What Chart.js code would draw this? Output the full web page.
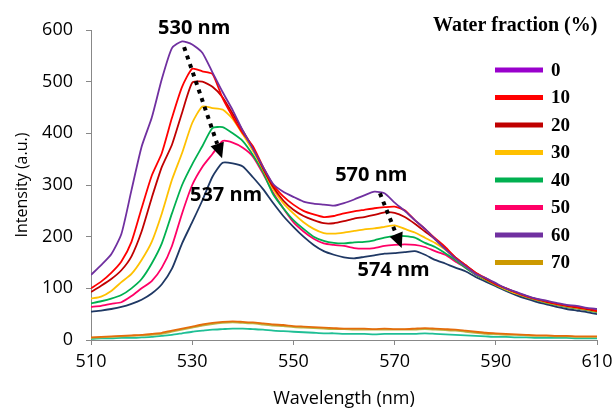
<!DOCTYPE html>
<html lang="en">
<head>
<meta charset="UTF-8">
<title>Emission spectra vs water fraction</title>
<style>
    body { margin: 0; background: #fff; }
    .wrap { width: 614px; height: 412px; position: relative; }
</style>
<script src="https://cdn.jsdelivr.net/npm/chart.js"></script>
</head>
<body>
<div class="wrap"><canvas id="spectra"></canvas></div>
<script>
// wavelength grid (nm)
const wavelength = [510,512,514,516,518,520,522,524,526,528,530,532,534,536,538,540,542,544,546,548,
    550,552,554,556,558,560,562,564,566,568,570,572,574,576,578,580,582,584,586,588,
    590,592,594,596,598,600,602,604,606,608,610];

// intensities, one array per curve
const curvePurple = [126,145,166,205,290,374,430,505,565,578,572,556,518,480,445,405,370,335,302,287,
    277,268,264,262,260,265,272,280,287,284,266,250,232,215,195,176,158,143,128,120,
    110,100,93,86,80,76,72,68,66,62,60];
const curveRed = [100,113,130,152,190,255,318,362,430,490,525,520,515,468,432,400,375,335,300,278,
    262,250,243,238,240,245,249,252,255,257,258,251,232,215,197,180,160,145,130,120,
    108,100,92,85,79,75,70,67,64,61,57];
const curveDarkRed = [93,105,118,135,162,210,275,335,378,440,498,500,490,470,438,405,372,332,296,270,
    252,240,232,226,226,230,235,238,242,247,246,238,225,210,195,178,160,145,130,118,
    108,100,92,85,79,74,70,66,63,60,56];
const curveYellow = [80,84,95,112,128,155,190,245,310,362,420,452,449,446,428,398,366,330,292,265,
    245,228,215,207,206,208,211,214,216,219,222,215,208,198,188,175,158,143,128,117,
    107,98,90,84,78,73,69,65,62,59,55];
const curveGreen = [71,75,80,87,100,118,148,187,245,300,340,375,410,412,400,385,358,325,282,255,
    232,215,200,192,188,187,189,190,193,198,201,201,198,188,180,168,155,140,127,116,
    106,97,90,83,77,72,68,64,61,58,54];
const curvePink = [64,66,70,73,85,100,114,140,182,245,300,335,360,385,382,372,355,322,285,255,
    228,210,196,187,184,182,178,177,178,182,184,185,184,180,172,165,152,140,127,116,
    106,97,90,83,77,72,68,64,61,58,55];
const curveNavy = [55,57,60,64,70,78,90,108,138,187,228,270,316,343,342,336,315,292,265,240,
    219,200,184,172,165,160,158,161,164,167,168,170,172,165,155,148,140,133,122,113,
    104,95,87,80,74,69,64,60,57,54,50];
const curveOrange = [5,6,7,8,9,10,12,14,18,22,26,30,33,35,36,35,34,32,30,29,
    27,26,25,24,23,22,22,22,21,22,21,21,22,23,22,21,20,18,16,14,
    13,12,11,10,9,9,8,8,7,7,7];
const curveOlive = [4,5,6,7,8,9,10,12,16,20,24,28,31,33,34,33,32,30,28,27,
    25,24,23,22,21,21,20,20,20,20,20,20,20,21,20,19,18,16,14,12,
    11,10,10,9,8,8,7,7,6,6,6];
const curveTeal = [2,3,3,4,4,5,6,8,10,13,16,18,20,21,22,22,21,20,18,17,
    16,15,14,13,13,12,12,12,11,12,12,12,12,13,12,11,10,9,8,7,
    6,6,5,5,4,4,4,4,3,3,3];

// legend of the figure
const legendLabels = ['0','10','20','30','40','50','60','70'];
const legendColors = ['#9900CC','#FF0000','#C00000','#FFC000','#00B050','#FF0066','#7030A0','#CC9900'];

// peak shift annotations: [label, x, y] in data units
const peakLabels = [['530 nm',530.4,603],['537 nm',536.7,280],['570 nm',565.4,319],['574 nm',569.8,135]];
const peakArrows = [[528.4,567,535.9,352],[567.1,284,571.4,178]];

const series = [
    ['0', curvePurple, '#7030A0'],
    ['10', curveRed, '#FF0000'],
    ['20', curveDarkRed, '#C00000'],
    ['30', curveYellow, '#FFC000'],
    ['40', curveGreen, '#00B050'],
    ['50', curvePink, '#FF0066'],
    ['60', curveNavy, '#1F3864'],
    ['70', curveOrange, '#E46C0A'],
    ['80', curveOlive, '#B8B84A'],
    ['90', curveTeal, '#1FBF95']
];

const datasets = series.map(([name, vals, color]) => ({
    label: name,
    data: wavelength.map((w, i) => ({ x: w, y: vals[i] })),
    borderColor: color,
    borderWidth: 1.8,
    pointRadius: 0,
    tension: 0.2,
    fill: false
}));

const annotations = {
    id: 'annotations',
    afterDraw(chart) {
        const ctx = chart.ctx;
        const xs = chart.scales.x, ys = chart.scales.y;
        ctx.save();
        // dotted arrows
        peakArrows.forEach(([x1, y1, x2, y2]) => {
            const ax = xs.getPixelForValue(x1), ay = ys.getPixelForValue(y1);
            const bx = xs.getPixelForValue(x2), by = ys.getPixelForValue(y2);
            const ang = Math.atan2(by - ay, bx - ax);
            const head = 15;
            ctx.strokeStyle = '#000';
            ctx.lineWidth = 4;
            ctx.setLineDash([4, 5]);
            ctx.beginPath();
            ctx.moveTo(ax, ay);
            ctx.lineTo(bx - head * Math.cos(ang), by - head * Math.sin(ang));
            ctx.stroke();
            ctx.setLineDash([]);
            ctx.fillStyle = '#000';
            ctx.beginPath();
            ctx.moveTo(bx, by);
            ctx.lineTo(bx - head * Math.cos(ang) + 7 * Math.sin(ang), by - head * Math.sin(ang) - 7 * Math.cos(ang));
            ctx.lineTo(bx - head * Math.cos(ang) - 7 * Math.sin(ang), by - head * Math.sin(ang) + 7 * Math.cos(ang));
            ctx.closePath();
            ctx.fill();
        });
        ctx.font = 'bold 20px "Open Sans"';
        ctx.textAlign = 'center';
        ctx.textBaseline = 'middle';
        ctx.fillStyle = '#000';
        peakLabels.forEach(([txt, x, y]) => {
            ctx.fillText(txt, xs.getPixelForValue(x), ys.getPixelForValue(y));
        });

        // legend
        ctx.font = 'bold 20px "Liberation Serif"';
        ctx.textAlign = 'left';
        ctx.fillText('Water fraction (%)', 433, 26);
        ctx.font = 'bold 19px "Liberation Serif"';
        legendLabels.forEach((lab, i) => {
            const y = 70 + i * 27.5;
            ctx.strokeStyle = legendColors[i];
            ctx.lineWidth = 5;
            ctx.beginPath();
            ctx.moveTo(495, y);
            ctx.lineTo(543, y);
            ctx.stroke();
            ctx.fillText(lab, 551, y + 1);
        });
        ctx.restore();
    }
};

new Chart(document.getElementById('spectra'), {
    type: 'line',
    data: { datasets: datasets },
    options: {
        responsive: true,
        maintainAspectRatio: false,
        animation: false,
        layout: { padding: { top: 30, right: 17, left: 0, bottom: 0 } },
        plugins: { legend: { display: false }, tooltip: { enabled: false } },
        scales: {
            x: {
                type: 'linear',
                min: 510,
                max: 610,
                afterFit(scale) {
                    scale.height = 72;
                    scale.paddingLeft = 0;
                    scale.paddingRight = 0;
                },
                border: { color: '#888', width: 1 },
                grid: { drawOnChartArea: false, drawTicks: true, tickLength: 5, color: '#888' },
                ticks: { stepSize: 20, color: '#000', padding: 6, font: { family: 'Open Sans', size: 18 } },
                title: {
                    display: true,
                    text: 'Wavelength (nm)',
                    color: '#000',
                    font: { family: 'Open Sans', size: 18 },
                    padding: { top: 0, bottom: 2 }
                }
            },
            y: {
                min: 0,
                max: 600,
                afterFit(scale) { scale.width = 91; },
                border: { color: '#888', width: 1 },
                grid: { drawOnChartArea: false, drawTicks: true, tickLength: 5, color: '#888' },
                ticks: { stepSize: 100, color: '#000', padding: 13, font: { family: 'Open Sans', size: 18 } },
                title: {
                    display: true,
                    text: 'Intensity (a.u.)',
                    color: '#000',
                    font: { family: 'Open Sans', size: 16 },
                    padding: { top: 13, bottom: 0 }
                }
            }
        }
    },
    plugins: [annotations]
});
</script>
</body>
</html>
